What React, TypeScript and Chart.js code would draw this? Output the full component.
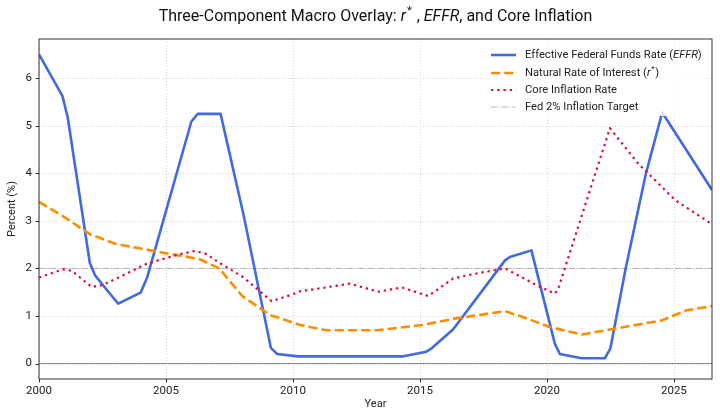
import React, { useEffect, useRef } from "react";
import { Chart, registerables } from "chart.js";

Chart.register(...registerables);

// Effective federal funds rate (EFFR), percent
const effrYears = [
  2000.0, 2000.92, 2001.13, 2002.0, 2002.2, 2002.9, 2003.12, 2004.0, 2004.26, 2006.0,
  2006.25, 2007.15, 2008.04, 2009.13, 2009.38, 2010.2, 2014.3, 2015.25, 2015.46, 2016.31,
  2018.35, 2018.54, 2019.39, 2020.31, 2020.51, 2021.37, 2022.28, 2022.5, 2023.1, 2023.9,
  2024.54, 2026.5,
];
const effrValues = [
  6.5, 5.63, 5.18, 2.12, 1.86, 1.4, 1.26, 1.49, 1.81, 5.09,
  5.25, 5.25, 3.16, 0.33, 0.2, 0.15, 0.15, 0.25, 0.32, 0.72,
  2.17, 2.24, 2.38, 0.42, 0.2, 0.11, 0.11, 0.32, 2.0, 4.0,
  5.28, 3.65,
];

// Natural rate of interest (r*), percent
const rstarYears = [
  2000, 2001, 2002, 2003, 2004, 2005, 2006.3, 2007.1, 2008, 2009.1,
  2010.3, 2011.3, 2013.3, 2015.1, 2016.4, 2018.35, 2018.94, 2020.1, 2021.37, 2024.54,
  2025.5, 2026.5,
];
const rstarValues = [
  3.4, 3.08, 2.72, 2.52, 2.42, 2.32, 2.2, 2.0, 1.42, 1.02,
  0.81, 0.7, 0.7, 0.81, 0.95, 1.1, 1.0, 0.77, 0.61, 0.91,
  1.12, 1.21,
];

// Core inflation rate, percent
const coreYears = [
  2000.0, 2000.95, 2001.3, 2002.07, 2002.5, 2003.1, 2004.24, 2005.4, 2006.15, 2006.6,
  2007.1, 2008.03, 2009.16, 2009.9, 2010.28, 2011.3, 2012.24, 2013.36, 2014.28, 2015.33,
  2016.31, 2017.0, 2017.6, 2018.35, 2019.7, 2020.31, 2020.45, 2022.48, 2023.6, 2023.93,
  2025.04, 2026.5,
];
const coreValues = [
  1.81, 1.98, 1.95, 1.61, 1.65, 1.8, 2.1, 2.28, 2.37, 2.3,
  2.12, 1.82, 1.31, 1.44, 1.52, 1.6, 1.68, 1.51, 1.6, 1.42,
  1.79, 1.87, 1.93, 2.0, 1.62, 1.47, 1.58, 4.95, 4.2, 4.03,
  3.44, 2.93,
];

const inflationTarget = 2;
const xTickValues = [2000, 2005, 2010, 2015, 2020, 2025];
const yTickValues = [0, 1, 2, 3, 4, 5, 6];
const xMin = 2000;
const xMax = 2026.5;
const yMin = -0.325;
const yMax = 6.825;

const FONT = "Roboto, 'DejaVu Sans', sans-serif";
const TEXT = "#222222";
const EFFR_COLOR = "#4169E1";
const RSTAR_COLOR = "#FF8C00";
const CORE_COLOR = "#DC143C";
const TARGET_COLOR = "rgba(128,128,128,0.55)";
const GRID_COLOR = "rgba(176,176,176,0.75)";
const SPINE_COLOR = "#333333";

const EFFR_DASH: number[] = [];
const RSTAR_DASH = [9.25, 4];
const CORE_DASH = [2.4, 3.8];
const TARGET_DASH = [6.4, 1.6, 1, 1.6];
const GRID_DASH = [1, 2];

type Run = { text: string; italic?: boolean; sup?: boolean };

function runFont(run: Run, size: number) {
  const s = run.sup ? size * 0.7 : size;
  return `${run.italic ? "italic " : ""}${s}px ${FONT}`;
}

function runsWidth(ctx: CanvasRenderingContext2D, runs: Run[], size: number) {
  let w = 0;
  for (const r of runs) {
    ctx.font = runFont(r, size);
    w += ctx.measureText(r.text).width + (r.sup ? size * 0.12 : 0);
  }
  return w;
}

function drawRuns(
  ctx: CanvasRenderingContext2D,
  runs: Run[],
  x: number,
  y: number,
  size: number,
  align: "left" | "center",
  color: string
) {
  let cx = align === "center" ? x - runsWidth(ctx, runs, size) / 2 : x;
  ctx.save();
  ctx.fillStyle = color;
  ctx.textAlign = "left";
  ctx.textBaseline = "middle";
  for (const r of runs) {
    ctx.font = runFont(r, size);
    const dy = r.sup ? -size * 0.38 : 0;
    ctx.fillText(r.text, cx + (r.sup ? size * 0.06 : 0), y + dy);
    cx += ctx.measureText(r.text).width + (r.sup ? size * 0.12 : 0);
  }
  ctx.restore();
}

const titleRuns: Run[] = [
  { text: "Three-Component Macro Overlay: " },
  { text: "r", italic: true },
  { text: "*", sup: true },
  { text: " , " },
  { text: "EFFR", italic: true },
  { text: ", and Core Inflation" },
];

const legendRows: { runs: Run[]; color: string; width: number; dash: number[] }[] = [
  {
    runs: [{ text: "Effective Federal Funds Rate (" }, { text: "EFFR", italic: true }, { text: ")" }],
    color: EFFR_COLOR,
    width: 2.6,
    dash: EFFR_DASH,
  },
  {
    runs: [
      { text: "Natural Rate of Interest (" },
      { text: "r", italic: true },
      { text: "*", sup: true },
      { text: ")" },
    ],
    color: RSTAR_COLOR,
    width: 2.6,
    dash: RSTAR_DASH,
  },
  { runs: [{ text: "Core Inflation Rate" }], color: CORE_COLOR, width: 2.2, dash: CORE_DASH },
  { runs: [{ text: "Fed 2% Inflation Target" }], color: TARGET_COLOR, width: 1, dash: TARGET_DASH },
];

function points(xs: number[], ys: number[]) {
  return xs.map((x, i) => ({ x, y: ys[i] }));
}

const decorPlugin = {
  id: "decor",
  beforeDatasetsDraw(chart: any) {
    const { ctx, chartArea: a, scales } = chart;
    ctx.save();
    ctx.beginPath();
    ctx.rect(a.left, a.top, a.right - a.left, a.bottom - a.top);
    ctx.clip();

    // dotted grid at the major ticks
    ctx.strokeStyle = GRID_COLOR;
    ctx.lineWidth = 0.8;
    ctx.setLineDash(GRID_DASH);
    ctx.beginPath();
    for (const v of xTickValues) {
      const px = Math.round(scales.x.getPixelForValue(v)) + 0.5;
      ctx.moveTo(px, a.top);
      ctx.lineTo(px, a.bottom);
    }
    for (const v of yTickValues) {
      const py = Math.round(scales.y.getPixelForValue(v)) + 0.5;
      ctx.moveTo(a.left, py);
      ctx.lineTo(a.right, py);
    }
    ctx.stroke();

    // zero line and 2% target
    const y0 = scales.y.getPixelForValue(0);
    const yT = scales.y.getPixelForValue(inflationTarget);
    ctx.setLineDash([]);
    ctx.strokeStyle = "rgba(120,120,120,0.85)";
    ctx.lineWidth = 1;
    ctx.beginPath();
    ctx.moveTo(a.left, y0);
    ctx.lineTo(a.right, y0);
    ctx.stroke();
    ctx.strokeStyle = TARGET_COLOR;
    ctx.setLineDash(TARGET_DASH);
    ctx.beginPath();
    ctx.moveTo(a.left, yT);
    ctx.lineTo(a.right, yT);
    ctx.stroke();
    ctx.restore();
  },
  afterDatasetsDraw(chart: any) {
    const { ctx, chartArea: a, scales } = chart;
    ctx.save();
    // frame and tick marks
    ctx.strokeStyle = SPINE_COLOR;
    ctx.lineWidth = 1;
    ctx.strokeRect(a.left, a.top, a.right - a.left, a.bottom - a.top);
    ctx.beginPath();
    for (const v of yTickValues) {
      const py = Math.round(scales.y.getPixelForValue(v)) + 0.5;
      ctx.moveTo(a.left - 3.5, py);
      ctx.lineTo(a.left, py);
    }
    for (const v of xTickValues) {
      const px = Math.round(scales.x.getPixelForValue(v)) + 0.5;
      ctx.moveTo(px, a.bottom);
      ctx.lineTo(px, a.bottom + 3.5);
    }
    ctx.stroke();

    // legend
    const boxL = 486;
    const boxT = 45;
    const boxR = a.right - 5.5;
    const boxB = 116;
    ctx.fillStyle = "rgba(255,255,255,0.8)";
    ctx.beginPath();
    (ctx as any).roundRect(boxL, boxT, boxR - boxL, boxB - boxT, 3);
    ctx.fill();
    const rowY = [55, 73, 90, 107];
    legendRows.forEach((row, i) => {
      const y = rowY[i];
      ctx.strokeStyle = row.color;
      ctx.lineWidth = row.width;
      ctx.setLineDash(row.dash);
      ctx.lineCap = "butt";
      ctx.beginPath();
      ctx.moveTo(491, y);
      ctx.lineTo(516, y);
      ctx.stroke();
      ctx.setLineDash([]);
      drawRuns(ctx, row.runs, 525, y, 11.2, "left", TEXT);
    });
    ctx.restore();
  },
  afterDraw(chart: any) {
    const { ctx, chartArea: a } = chart;
    const cx = (a.left + a.right) / 2;
    drawRuns(ctx, titleRuns, cx, 17, 16, "center", "#111111");
    ctx.save();
    ctx.fillStyle = TEXT;
    ctx.font = `11px ${FONT}`;
    ctx.textAlign = "center";
    ctx.textBaseline = "middle";
    ctx.fillText("Year", cx, 404);
    ctx.translate(12, (a.top + a.bottom) / 2);
    ctx.rotate(-Math.PI / 2);
    ctx.fillText("Percent (%)", 0, 0);
    ctx.restore();
  },
};

export default function App() {
  const canvasRef = useRef<HTMLCanvasElement | null>(null);

  useEffect(() => {
    const canvas = canvasRef.current;
    if (!canvas) return;
    const chart = new Chart(canvas, {
      type: "line",
      data: {
        datasets: [
          {
            label: "Effective Federal Funds Rate (EFFR)",
            data: points(effrYears, effrValues),
            borderColor: EFFR_COLOR,
            borderWidth: 2.6,
            borderJoinStyle: "round",
            pointRadius: 0,
            tension: 0,
            order: 3,
          },
          {
            label: "Natural Rate of Interest (r*)",
            data: points(rstarYears, rstarValues),
            borderColor: RSTAR_COLOR,
            borderWidth: 2.6,
            borderDash: RSTAR_DASH,
            borderJoinStyle: "round",
            pointRadius: 0,
            tension: 0,
            order: 2,
          },
          {
            label: "Core Inflation Rate",
            data: points(coreYears, coreValues),
            borderColor: CORE_COLOR,
            borderWidth: 2.2,
            borderDash: CORE_DASH,
            borderJoinStyle: "round",
            pointRadius: 0,
            tension: 0,
            order: 1,
          },
        ],
      },
      options: {
        animation: false,
        responsive: false,
        devicePixelRatio: 1,
        layout: { padding: { left: 0, right: 8, top: 39, bottom: 0 } },
        plugins: {
          legend: { display: false },
          title: { display: false },
          tooltip: { enabled: false },
        },
        scales: {
          x: {
            type: "linear",
            min: xMin,
            max: xMax,
            grid: { display: false, drawTicks: false },
            border: { display: false },
            afterBuildTicks: (scale: any) => {
              scale.ticks = xTickValues.map((value) => ({ value }));
            },
            afterFit: (scale: any) => {
              scale.height = 38;
            },
            ticks: {
              padding: 5,
              maxRotation: 0,
              autoSkip: false,
              color: TEXT,
              font: { family: FONT, size: 11.5 },
              callback: (v: any) => String(v),
            },
          },
          y: {
            type: "linear",
            min: yMin,
            max: yMax,
            grid: { display: false, drawTicks: false },
            border: { display: false },
            afterBuildTicks: (scale: any) => {
              scale.ticks = yTickValues.map((value) => ({ value }));
            },
            afterFit: (scale: any) => {
              scale.width = 39;
            },
            ticks: {
              padding: 7,
              autoSkip: false,
              color: TEXT,
              font: { family: FONT, size: 11.5 },
              callback: (v: any) => String(v),
            },
          },
        },
      },
      plugins: [decorPlugin],
    } as any);
    return () => chart.destroy();
  }, []);

  return (
    <div style={{ position: "absolute", left: 0, top: 0, width: 720, height: 417, background: "#ffffff" }}>
      <canvas ref={canvasRef} width={720} height={417} style={{ display: "block", width: 720, height: 417 }} />
    </div>
  );
}
